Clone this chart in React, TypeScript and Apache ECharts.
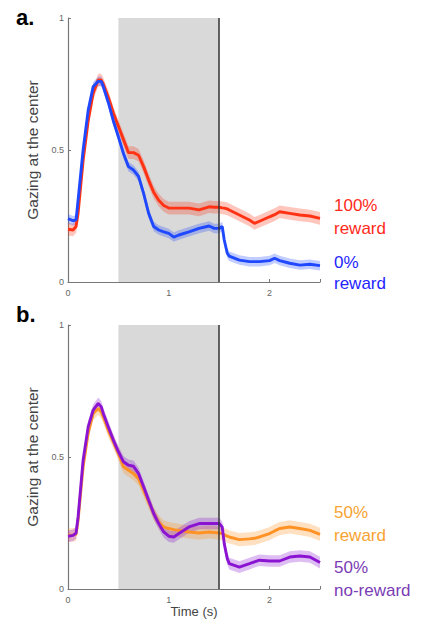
import React, { useEffect, useRef } from "react";
import * as echarts from "echarts";

const T = [0, 0.05, 0.08, 0.1, 0.15, 0.2, 0.25, 0.3, 0.33, 0.35, 0.4, 0.45, 0.5, 0.55, 0.6, 0.65, 0.7, 0.75, 0.8, 0.85, 0.9, 0.95, 1.0, 1.05, 1.1, 1.2, 1.3, 1.4, 1.45, 1.5, 1.53, 1.55, 1.58, 1.6, 1.7, 1.8, 1.85, 1.9, 2.0, 2.05, 2.1, 2.2, 2.3, 2.4, 2.5];

const reward100 = [0.20, 0.197, 0.21, 0.26, 0.46, 0.61, 0.715, 0.765, 0.765, 0.75, 0.70, 0.64, 0.59, 0.54, 0.49, 0.49, 0.48, 0.437, 0.386, 0.34, 0.31, 0.29, 0.28, 0.28, 0.28, 0.28, 0.273, 0.285, 0.283, 0.283, 0.281, 0.28, 0.277, 0.273, 0.254, 0.235, 0.222, 0.23, 0.247, 0.255, 0.266, 0.26, 0.254, 0.25, 0.241];
const reward0 = [0.24, 0.232, 0.235, 0.31, 0.50, 0.65, 0.74, 0.76, 0.76, 0.74, 0.68, 0.61, 0.55, 0.487, 0.437, 0.424, 0.40, 0.336, 0.26, 0.21, 0.197, 0.19, 0.184, 0.17, 0.178, 0.19, 0.203, 0.212, 0.203, 0.203, 0.21, 0.159, 0.109, 0.098, 0.083, 0.077, 0.077, 0.077, 0.081, 0.09, 0.081, 0.071, 0.064, 0.067, 0.062];
const reward50 = [0.204, 0.205, 0.207, 0.26, 0.463, 0.59, 0.665, 0.684, 0.67, 0.652, 0.60, 0.557, 0.513, 0.463, 0.45, 0.437, 0.418, 0.374, 0.33, 0.286, 0.254, 0.235, 0.229, 0.225, 0.222, 0.216, 0.212, 0.216, 0.214, 0.212, 0.21, 0.205, 0.2, 0.197, 0.187, 0.19, 0.192, 0.197, 0.21, 0.22, 0.229, 0.235, 0.229, 0.222, 0.207];
const noReward50 = [0.20, 0.203, 0.212, 0.273, 0.488, 0.614, 0.678, 0.703, 0.69, 0.665, 0.614, 0.564, 0.52, 0.482, 0.469, 0.465, 0.437, 0.387, 0.336, 0.286, 0.248, 0.216, 0.20, 0.197, 0.21, 0.235, 0.248, 0.248, 0.248, 0.248, 0.235, 0.172, 0.115, 0.096, 0.083, 0.096, 0.103, 0.109, 0.106, 0.106, 0.106, 0.121, 0.125, 0.121, 0.10];

const SEM = { r100: 0.024, r0: 0.018, r50: 0.025, nr50: 0.022 };

const CUE_WINDOW = [0.5, 1.5];
const OUTCOME_TIME = 1.5;
const X_TICKS = [0, 1, 2];
const Y_TICKS = [0, 0.5, 1];

const FONT = "'Liberation Sans', Arial, sans-serif";

function bandSeries(name: string, vals: number[], sem: number, color: string, idx: number) {
  const data = T.map((t, i) => [t, vals[i] - sem, vals[i] + sem]);
  const band = {
    type: "custom",
    name: name + "_band",
    xAxisIndex: idx,
    yAxisIndex: idx,
    silent: true,
    encode: { x: 0, y: [1, 2] },
    data,
    z: 2,
    renderItem: (params: any, api: any) => {
      if (params.dataIndex !== 0) return null;
      const upper = data.map((d) => api.coord([d[0], d[2]]));
      const lower = data.map((d) => api.coord([d[0], d[1]])).reverse();
      return {
        type: "polygon",
        shape: { points: upper.concat(lower) },
        style: { fill: color, opacity: 0.28 },
      };
    },
  };
  const main = {
    type: "line",
    name,
    xAxisIndex: idx,
    yAxisIndex: idx,
    symbol: "none",
    silent: true,
    lineStyle: { color, width: 2.9 },
    data: T.map((t, i) => [t, vals[i]]),
    z: 3,
  };
  return [band, main];
}

function markSeries(idx: number) {
  return [
    {
      type: "line",
      name: "cue" + idx,
      xAxisIndex: idx,
      yAxisIndex: idx,
      data: [],
      z: 0,
      silent: true,
      markArea: {
        silent: true,
        itemStyle: { color: "#d9d9d9" },
        data: [[{ xAxis: CUE_WINDOW[0], yAxis: 0 }, { xAxis: CUE_WINDOW[1], yAxis: 1 }]],
      },
    },
    {
      type: "line",
      name: "outcome" + idx,
      xAxisIndex: idx,
      yAxisIndex: idx,
      data: [],
      z: 10,
      silent: true,
      markLine: {
        silent: true,
        symbol: "none",
        label: { show: false },
        lineStyle: { color: "#333", width: 1.5, type: "solid" },
        data: [{ xAxis: OUTCOME_TIME }],
      },
    },
  ];
}

function makeX(idx: number, withName: boolean) {
  return {
    type: "value",
    gridIndex: idx,
    min: 0,
    max: 2.5,
    interval: 1,
    name: withName ? "Time (s)" : "",
    nameLocation: "middle",
    nameGap: 16,
    nameTextStyle: { fontSize: 13, color: "#444", fontFamily: FONT },
    axisLine: { lineStyle: { color: "#777", width: 1.2 } },
    axisTick: { inside: true, length: 3, lineStyle: { color: "#777" } },
    axisLabel: {
      fontSize: 9,
      color: "#666",
      margin: 6,
      fontFamily: FONT,
      formatter: (v: number) => (X_TICKS.includes(v) ? String(v) : ""),
    },
    splitLine: { show: false },
  };
}

function makeY(idx: number) {
  return {
    type: "value",
    gridIndex: idx,
    min: 0,
    max: 1,
    interval: 0.5,
    name: "Gazing at the center",
    nameLocation: "middle",
    nameGap: 22,
    nameTextStyle: { fontSize: 15.5, color: "#444", fontFamily: FONT },
    axisLine: { show: true, lineStyle: { color: "#777", width: 1.2 } },
    axisTick: { inside: true, length: 3, lineStyle: { color: "#777" } },
    axisLabel: {
      fontSize: 9,
      color: "#666",
      margin: 4,
      fontFamily: FONT,
      formatter: (v: number) => (Y_TICKS.includes(v) ? String(v) : ""),
    },
    splitLine: { show: false },
  };
}

function label(text: string, x: number, y: number, color: string, size = 17, bold = false) {
  return {
    type: "text",
    x,
    y,
    style: {
      text,
      fill: color,
      font: `${bold ? "bold " : ""}${size}px ${FONT}`,
      verticalAlign: "middle",
      align: "left",
    },
  };
}

export default function App() {
  const ref = useRef<HTMLDivElement>(null);
  useEffect(() => {
    if (!ref.current) return;
    const chart = echarts.init(ref.current, undefined, { renderer: "svg" });
    chart.setOption({
      animation: false,
      backgroundColor: "#fff",
      grid: [
        { left: 68, top: 18, width: 252, height: 264 },
        { left: 68, top: 325, width: 252, height: 264 },
      ],
      xAxis: [makeX(0, false), makeX(1, true)],
      yAxis: [makeY(0), makeY(1)],
      series: [
        ...markSeries(0),
        ...markSeries(1),
        ...bandSeries("100% reward", reward100, SEM.r100, "#ff3214", 0),
        ...bandSeries("0% reward", reward0, SEM.r0, "#1f48ff", 0),
        ...bandSeries("50% reward", reward50, SEM.r50, "#ff9224", 1),
        ...bandSeries("50% no-reward", noReward50, SEM.nr50, "#8a14d2", 1),
      ],
      graphic: [
        label("a.", 16, 17, "#000", 22, true),
        label("b.", 16, 314, "#000", 22, true),
        label("100%", 334, 205, "#ff2a1a"),
        label("reward", 334, 228, "#ff2a1a"),
        label("0%", 334, 262, "#2424ff"),
        label("reward", 334, 283, "#2424ff"),
        label("50%", 334, 512, "#f7a332"),
        label("reward", 334, 535, "#f7a332"),
        label("50%", 334, 567, "#7a3cb4"),
        label("no-reward", 334, 590, "#7a3cb4"),
      ],
    });
    return () => chart.dispose();
  }, []);
  return <div ref={ref} style={{ position: "fixed", left: 0, top: 0, width: 422, height: 625 }} />;
}
